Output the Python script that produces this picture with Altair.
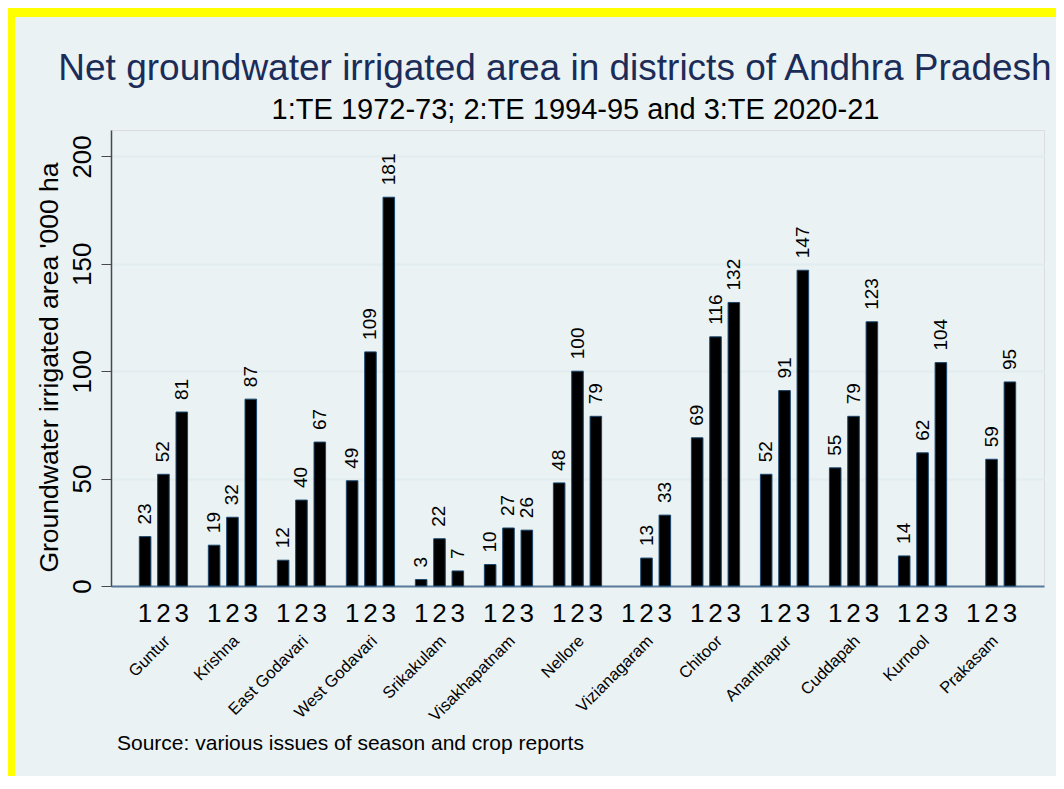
import altair as alt
import pandas as pd

districts = ["Guntur", "Krishna", "East Godavari", "West Godavari", "Srikakulam",
             "Visakhapatnam", "Nellore", "Vizianagaram", "Chitoor", "Ananthapur",
             "Cuddapah", "Kurnool", "Prakasam"]
periods = ["1", "2", "3"]
te_1972_73 = [23, 19, 12, 49, 3, 10, 48, None, 69, 52, 55, 14, None]
te_1994_95 = [52, 32, 40, 109, 22, 27, 100, 13, 116, 91, 79, 62, 59]
te_2020_21 = [81, 87, 67, 181, 7, 26, 79, 33, 132, 147, 123, 104, 95]
y_ticks = [0, 50, 100, 150, 200]

title_text = "Net groundwater irrigated area in districts of Andhra Pradesh"
subtitle_text = "1:TE 1972-73; 2:TE 1994-95 and 3:TE 2020-21"
y_title = "Groundwater irrigated area '000 ha"
source_text = "Source: various issues of season and crop reports"

rows = []
for i, d in enumerate(districts):
    for p, series in zip(periods, [te_1972_73, te_1994_95, te_2020_21]):
        rows.append({"district": d, "period": p, "value": series[i]})
df = pd.DataFrame(rows)

FONT = "Liberation Sans"
W, H = 933, 456
PAD_L, PAD_T = 103, 122
PAD_R, PAD_B = 12, 190
BG = "#EAF2F3"
YEL = "#FFFF00"

x_enc = alt.X("district:N", sort=districts,
              scale=alt.Scale(paddingInner=0.2, paddingOuter=0.36),
              axis=alt.Axis(title=None, labelAngle=-45, labelAlign="right",
                            labelBaseline="middle", labelFontSize=16.5,
                            labelPadding=52, labelOffset=4, ticks=False,
                            domainColor="#5b7a99", domainWidth=2,
                            labelColor="#000000", grid=False))
xo_enc = alt.XOffset("period:N", sort=periods,
                     scale=alt.Scale(paddingInner=0.37, paddingOuter=0.19))
y_scale = alt.Scale(domain=[0, 212.3], nice=False)
y_enc = alt.Y("value:Q", scale=y_scale,
              axis=alt.Axis(values=y_ticks, title=y_title, labelAngle=-90,
                            labelAlign="center", labelBaseline="alphabetic",
                            labelFontSize=26, labelPadding=11, tickSize=10,
                            tickColor="#4a4a4a", domainColor="#4a4a4a",
                            domainWidth=1.5, labelColor="#000000",
                            titleFontSize=26.5, titleFontWeight="normal",
                            titleAngle=-90, titleAlign="center",
                            titleBaseline="alphabetic", titleX=-54, titleY=237,
                            titleColor="#000000",
                            grid=True, gridColor="#E3ECEF", gridWidth=2.5))

base = alt.Chart(df)

bars = base.mark_bar(color="#000000", stroke="#1a476f", strokeWidth=1).encode(
    x=x_enc, xOffset=xo_enc, y=y_enc)

value_labels = base.transform_filter("datum.value != null").mark_text(
    angle=270, align="left", baseline="middle", dx=12, fontSize=19,
    font=FONT, color="#000000").encode(
    x=alt.X("district:N", sort=districts), xOffset=xo_enc,
    y=alt.Y("value:Q", scale=y_scale), text=alt.Text("value:Q", format="d"))

period_labels = base.mark_text(
    align="center", baseline="alphabetic", dy=36, fontSize=26, font=FONT,
    color="#000000").encode(
    x=alt.X("district:N", sort=districts), xOffset=xo_enc,
    y=alt.datum(0), text="period:N")

title_df = pd.DataFrame({"t": [title_text]})
title = alt.Chart(title_df).mark_text(
    align="center", baseline="alphabetic", fontSize=37, font=FONT,
    color="#1c2c58").encode(x=alt.value(444), y=alt.value(-50), text="t:N")

sub_df = pd.DataFrame({"t": [subtitle_text]})
subtitle = alt.Chart(sub_df).mark_text(
    align="center", baseline="alphabetic", fontSize=29, font=FONT,
    color="#000000").encode(x=alt.value(W / 2 - 2), y=alt.value(-11), text="t:N")

src_df = pd.DataFrame({"t": [source_text]})
source = alt.Chart(src_df).mark_text(
    align="left", baseline="alphabetic", fontSize=21, font=FONT,
    color="#000000").encode(x=alt.value(6), y=alt.value(620), text="t:N")

frame_df = pd.DataFrame({"x": [-PAD_L, -PAD_L],
                         "x2": [W + PAD_R, -PAD_L + 7],
                         "y": [-PAD_T, -PAD_T],
                         "y2": [-PAD_T + 9, H + PAD_B]})
frame = alt.Chart(frame_df).mark_rect(color=YEL).encode(
    x=alt.X("x:Q", scale=None), x2="x2:Q",
    y=alt.Y("y:Q", scale=None), y2="y2:Q")

chart = alt.layer(frame, bars, value_labels, period_labels, title, subtitle, source).properties(
    width=W, height=H,
    autosize=alt.AutoSizeParams(type="none"),
    padding={"left": PAD_L, "top": PAD_T, "right": PAD_R, "bottom": PAD_B},
    background=BG,
).configure_view(fill="#FFFFFF", stroke=None).configure(font=FONT)

chart.save("out.html", embed_options={"renderer": "svg", "actions": False})
